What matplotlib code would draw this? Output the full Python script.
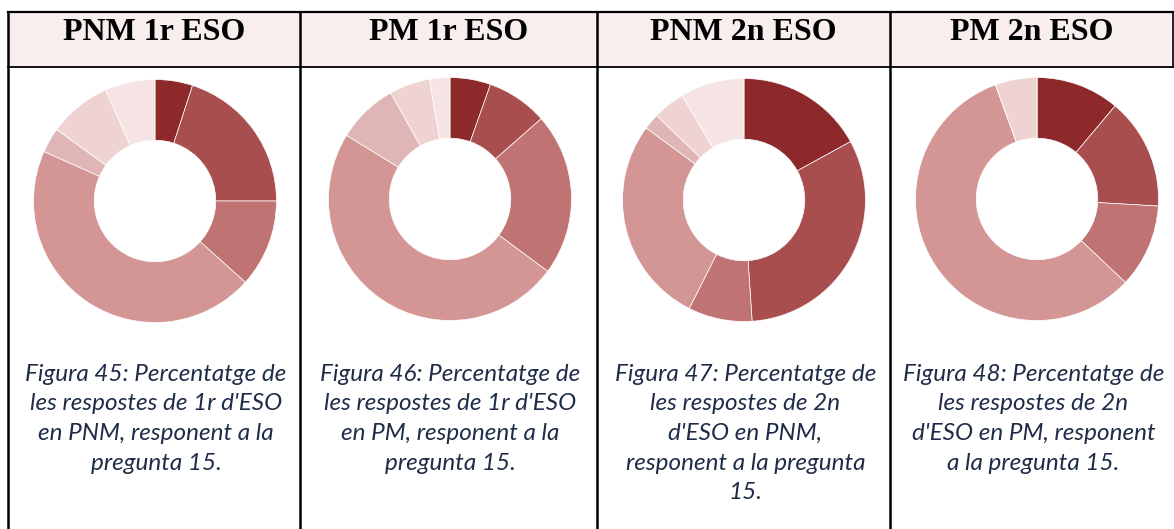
import matplotlib
matplotlib.use("Agg")
import matplotlib.pyplot as plt
from matplotlib.lines import Line2D
from matplotlib.patches import Rectangle

# ---- data ----
headers = ["PNM 1r ESO", "PM 1r ESO", "PNM 2n ESO", "PM 2n ESO"]
vals_pnm1 = [3, 12, 7, 27, 2, 5, 4]
vals_pm1 = [2, 3, 8, 18, 3, 2, 1]
vals_pnm2 = [8, 15, 4, 13, 1, 2, 4]
vals_pm2 = [6, 8, 6, 31, 0, 3, 0]
captions = [
    "Figura 45: Percentatge de\nles respostes de 1r d'ESO\nen PNM, responent a la\npregunta 15.",
    "Figura 46: Percentatge de\nles respostes de 1r d'ESO\nen PM, responent a la\npregunta 15.",
    "Figura 47: Percentatge de\nles respostes de 2n\nd'ESO en PNM,\nresponent a la pregunta\n15.",
    "Figura 48: Percentatge de\nles respostes de 2n\nd'ESO en PM, responent\na la pregunta 15.",
]
slice_colors = ["#8E292B", "#A84E4F", "#BF7372", "#D39695", "#E0B5B5", "#EFD3D3", "#F6E4E4"]

W, H = 1174, 529
fig = plt.figure(figsize=(W / 100, H / 100), dpi=100)
bg = fig.add_axes([0, 0, 1, 1])
bg.set_xlim(0, W)
bg.set_ylim(H, 0)
bg.axis("off")

col_x = [8, 300, 597, 890, 1173]
top_y, head_y = 12, 67

# header fill
bg.add_patch(Rectangle((col_x[0], top_y), col_x[-1] - col_x[0], head_y - top_y,
                       facecolor="#F9EEEE", edgecolor="none", zorder=0))
# lines
bg.add_line(Line2D([col_x[0], col_x[-1]], [top_y, top_y], color="black", lw=1.6))
bg.add_line(Line2D([col_x[0], col_x[-1]], [head_y, head_y], color="black", lw=1.3))
for x in col_x[:-1]:
    bg.add_line(Line2D([x, x], [top_y, H], color="black", lw=1.8))
bg.add_line(Line2D([col_x[-1], col_x[-1]], [top_y, head_y], color="black", lw=1.2))

centers_x = [(col_x[i] + col_x[i + 1]) / 2 for i in range(4)]
for i, h in enumerate(headers):
    bg.text(centers_x[i], 33, h, ha="center", va="center", fontsize=23,
            fontweight="bold", family="Liberation Serif", color="black")

for i, c in enumerate(captions):
    bg.text(centers_x[i] + 2, 364, c, ha="center", va="top", fontsize=17.5,
            style="italic", family="Lato", color="#1E2C48", linespacing=1.5)

# donuts
donuts = [vals_pnm1, vals_pm1, vals_pnm2, vals_pm2]
dcx = [155, 450, 744, 1037]
dcy = [201, 199, 200, 199]
R = 121.5
for vals, cx, cy in zip(donuts, dcx, dcy):
    ax = fig.add_axes([(cx - R) / W, 1 - (cy + R) / H, 2 * R / W, 2 * R / H])
    ax.pie(vals, colors=slice_colors, startangle=90, counterclock=False, radius=1,
           wedgeprops=dict(width=0.5, edgecolor="white", linewidth=0.5))
    ax.set_xlim(-1, 1)
    ax.set_ylim(-1, 1)
    ax.axis("off")

fig.savefig("out.png", dpi=100)
